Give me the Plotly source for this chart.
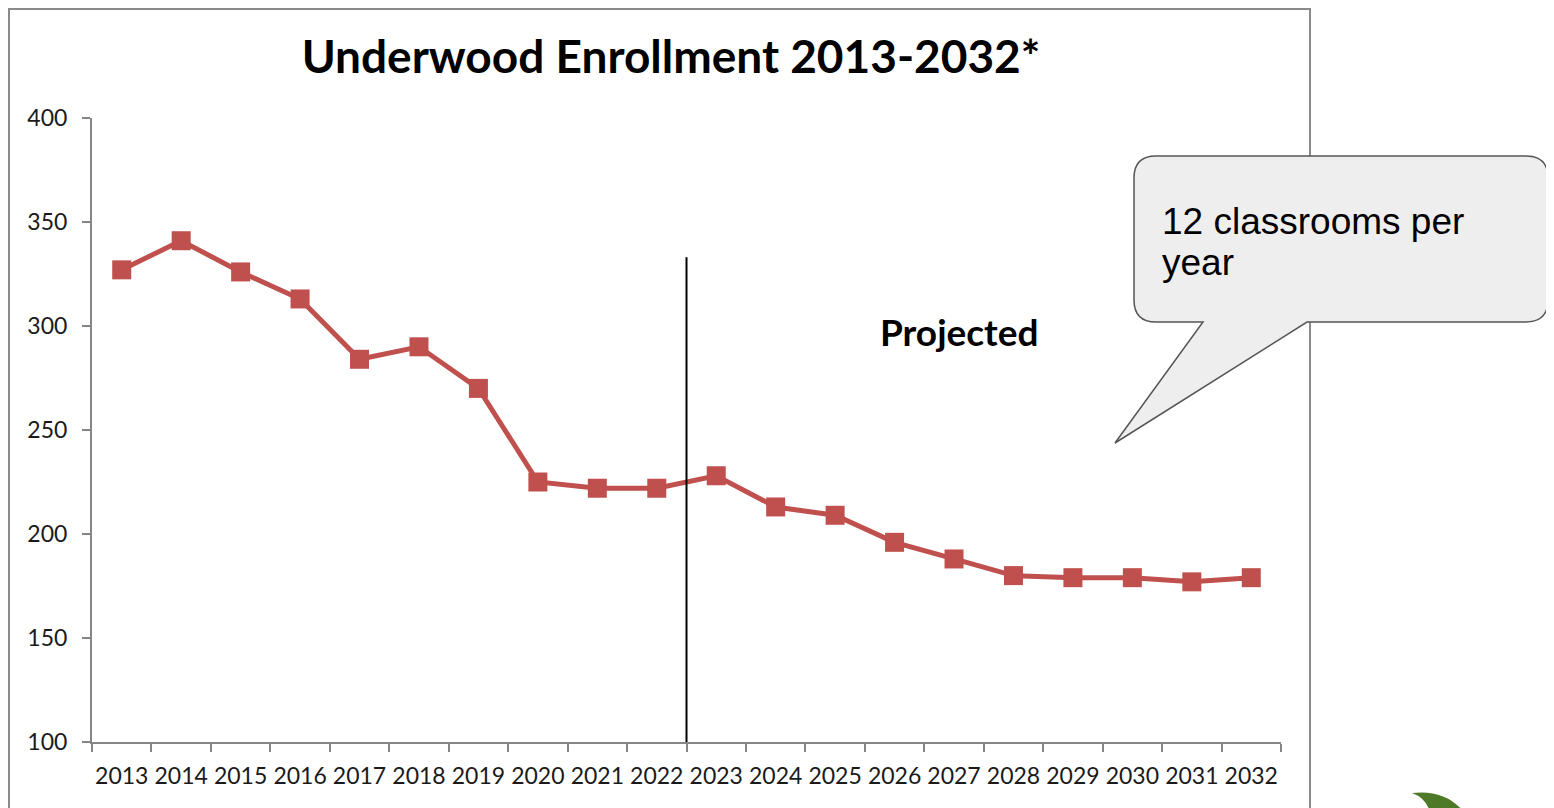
import plotly.graph_objects as go

years = [str(y) for y in range(2013, 2033)]
enrollment = [327, 341, 326, 313, 284, 290, 270, 225, 222, 222,
              228, 213, 209, 196, 188, 180, 179, 179, 177, 179]
y_ticks = [100, 150, 200, 250, 300, 350, 400]

OFF = 8  # page body margin
W, H = 1554 - OFF, 808 - OFF
L, R, T, B = 92, 1281, 118, 742  # plot area pixel bounds in the screenshot


def px(x):
    return (x - L) / (R - L)


def py(y):
    return (B - y) / (B - T)


fig = go.Figure()
fig.add_trace(go.Scatter(
    x=years, y=enrollment, mode="lines+markers",
    line=dict(color="#C0504D", width=5),
    marker=dict(symbol="square", size=19, color="#C0504D"),
    showlegend=False, hoverinfo="x+y",
))

shapes = []
# outer chart border
shapes.append(dict(type="rect", xref="paper", yref="paper",
                   x0=px(9), x1=px(1310), y0=py(830), y1=py(9),
                   line=dict(color="#8A8A8A", width=2), fillcolor="rgba(0,0,0,0)", layer="below"))
# vertical divider between actual and projected
shapes.append(dict(type="line", xref="x", yref="y", x0=9.5, x1=9.5, y0=100, y1=333,
                   line=dict(color="black", width=2)))
# callout bubble (rounded rect + tail)
x0c, x1c, y0c, y1c, r = 1134, 1548, 156, 322, 22


def P(x, y):
    return f"{px(x):.5f},{py(y):.5f}"


path = (f"M {P(x0c + r, y0c)} L {P(x1c - r, y0c)} Q {P(x1c, y0c)} {P(x1c, y0c + r)} "
        f"L {P(x1c, y1c - r)} Q {P(x1c, y1c)} {P(x1c - r, y1c)} "
        f"L {P(1307, y1c)} L {P(1115, 443)} L {P(1203, y1c)} "
        f"L {P(x0c + r, y1c)} Q {P(x0c, y1c)} {P(x0c, y1c - r)} "
        f"L {P(x0c, y0c + r)} Q {P(x0c, y0c)} {P(x0c + r, y0c)} Z")
shapes.append(dict(type="path", xref="paper", yref="paper", path=path,
                   fillcolor="#EEEEEE", line=dict(color="#555555", width=1.5)))
# leaf decoration
leaf = (f"M {P(1412, 793)} Q {P(1445, 789)} {P(1464, 812)} L {P(1430, 812)} "
        f"Q {P(1426, 798)} {P(1412, 793)} Z")
shapes.append(dict(type="path", xref="paper", yref="paper", path=leaf,
                   fillcolor="#4E7A27", line=dict(width=0)))

annotations = [
    dict(text="<b>Projected</b>", xref="paper", yref="paper", x=px(959), y=py(331),
         xanchor="center", yanchor="middle", showarrow=False,
         font=dict(family="Lato", size=37, color="black")),
    dict(text="12 classrooms per", xref="paper", yref="paper", x=px(1160), y=py(221),
         xanchor="left", yanchor="middle", showarrow=False,
         font=dict(family="Liberation Sans", size=37, color="black")),
    dict(text="year", xref="paper", yref="paper", x=px(1160), y=py(263),
         xanchor="left", yanchor="middle", showarrow=False,
         font=dict(family="Liberation Sans", size=37, color="black")),
]

fig.update_layout(
    width=W, height=H,
    margin=dict(l=L - OFF, r=1554 - R, t=T - OFF, b=808 - B),
    paper_bgcolor="white", plot_bgcolor="white",
    title=dict(text="<b>Underwood Enrollment 2013-2032*</b>", xref="paper", x=px(671),
               xanchor="center", yref="container", y=1 - (57 - OFF) / H, yanchor="middle",
               font=dict(family="Lato", size=46, color="black")),
    shapes=shapes, annotations=annotations,
    xaxis=dict(type="category", tickson="boundaries", showgrid=False, zeroline=False,
               showline=True, linecolor="#868686", linewidth=2,
               ticks="outside", ticklen=8, tickcolor="#868686", tickwidth=2,
               tickangle=0, ticklabelstandoff=12,
               tickfont=dict(family="Lato", size=23, color="#1a1a1a"),
               range=[-0.5, 19.5]),
    yaxis=dict(range=[100, 400], tickvals=y_ticks, showgrid=False, zeroline=False,
               showline=True, linecolor="#868686", linewidth=2,
               ticks="outside", ticklen=8, tickcolor="#868686", tickwidth=2,
               ticklabelstandoff=10,
               tickfont=dict(family="Lato", size=23, color="#1a1a1a")),
)

fig.write_html("out.html")
